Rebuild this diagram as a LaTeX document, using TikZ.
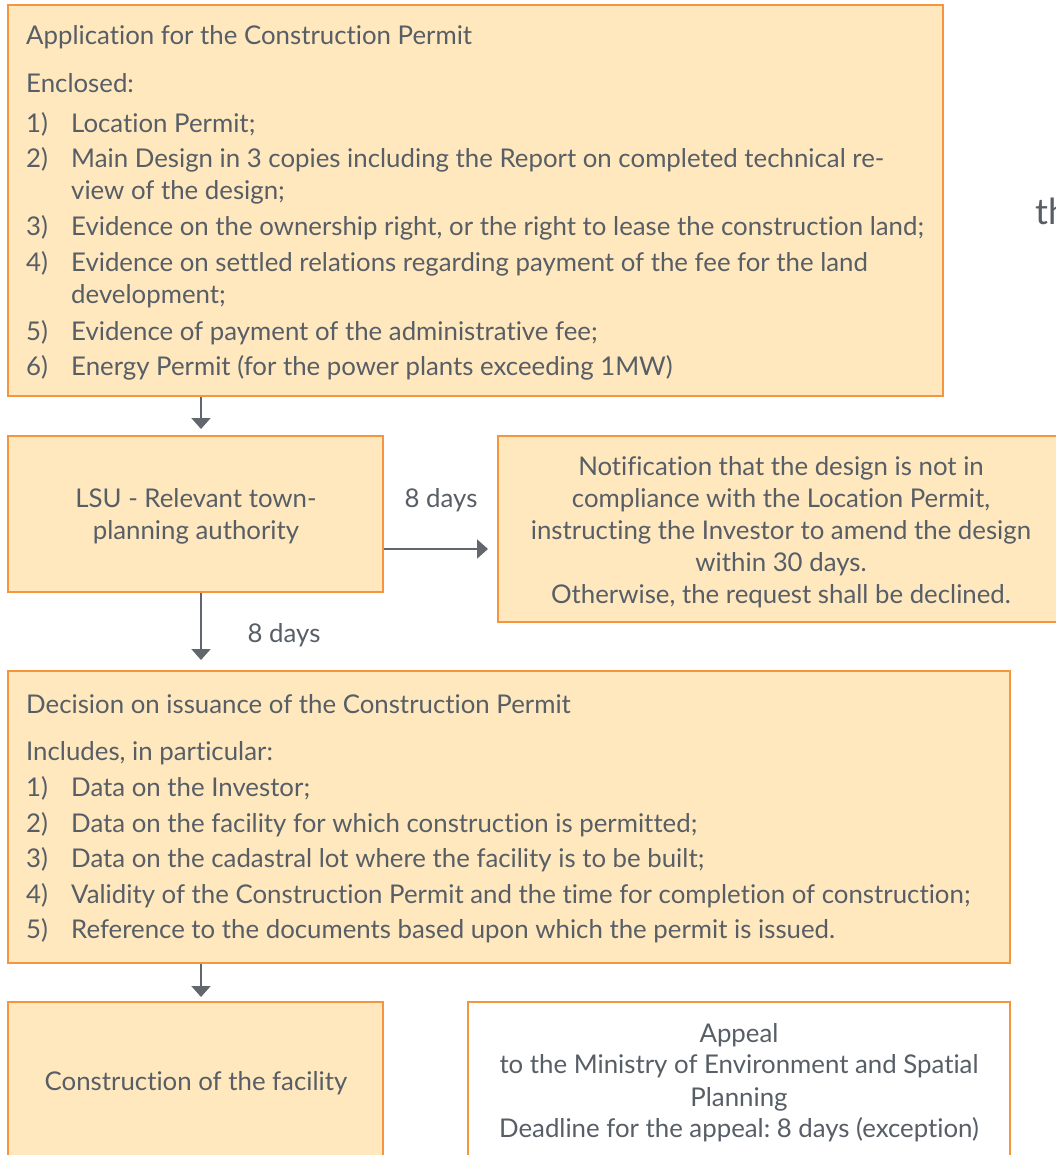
\documentclass[tikz,border=0pt]{standalone}
\usepackage{fontspec}
\setmainfont{Lato}[Ligatures=NoCommon]
\frenchspacing
\usetikzlibrary{arrows.meta}
\definecolor{boxline}{HTML}{F5963F}
\definecolor{boxfill}{HTML}{FFE8BE}
\definecolor{ink}{HTML}{575E66}
\definecolor{arrowgray}{HTML}{62676D}
\begin{document}
\begin{tikzpicture}[x=1pt,y=-1pt,
  box/.style={draw=boxline, line width=2.6pt, fill=boxfill, rectangle,
    inner sep=0pt, outer sep=0pt, anchor=north west},
  plainbox/.style={box, fill=white},
  txt/.style={anchor=base west, inner sep=0pt, text=ink,
    font=\fontsize{25.8}{31}\selectfont},
  ctxt/.style={txt, anchor=base},
  arr/.style={draw=arrowgray, line width=2pt, shorten <=1.3pt,
    -{Triangle[length=11pt,width=19pt]}},
]
\useasboundingbox (0,0) rectangle (1056,1155);
\clip (0,0) rectangle (1056,1155);

% boxes
\node[box, minimum width=935pt, minimum height=391pt] (app) at (8,5) {};
\node[box, minimum width=375pt, minimum height=156pt] (lsu) at (8,436) {};
\node[box, minimum width=580pt, minimum height=186pt] (note) at (498,436) {};
\node[box, minimum width=1002pt, minimum height=292pt] (dec) at (8,671) {};
\node[box, minimum width=375pt, minimum height=180pt] (cons) at (8,1002) {};
\node[plainbox, minimum width=542pt, minimum height=180pt] (appeal) at (468,1002) {};

% application text
\node[txt] (apph) at (26,45) {Application for the Construction Permit};
\node[txt] (appe) at (26,93) {Enclosed:};
\node[txt] (an1) at (26,133) {1)};
\node[txt] (ai1) at (71,133) {Location Permit;};
\node[txt] (an2) at (26,168) {2)};
\node[txt] (ai2) at (71,168) {Main Design in 3 copies including the Report on completed technical re-};
\node[txt] (ai2b) at (71,200) {view of the design;};
\node[txt] (an3) at (26,236) {3)};
\node[txt] (ai3) at (71,236) {Evidence on the ownership right, or the right to lease the construction land;};
\node[txt] (an4) at (26,272) {4)};
\node[txt] (ai4) at (71,272) {Evidence on settled relations regarding payment of the fee for the land};
\node[txt] (ai4b) at (71,303) {development;};
\node[txt] (an5) at (26,340) {5)};
\node[txt] (ai5) at (71,340) {Evidence of payment of the administrative fee;};
\node[txt] (an6) at (26,375) {6)};
\node[txt] (ai6) at (71,375) {Energy Permit (for the power plants exceeding 1MW)};

% cut-off heading on the right
\node[txt, anchor=base west, font=\fontsize{36}{42}\selectfont] (frag) at (1035,225) {th};

% town-planning authority
\node[ctxt] (lsu1) at (196,507) {LSU - Relevant town-};
\node[ctxt] (lsu2) at (196,539) {planning authority};

% notification
\node[ctxt] (n1) at (781,475) {Notification that the design is not in};
\node[ctxt] (n2) at (781,507) {compliance with the Location Permit,};
\node[ctxt] (n3) at (781,539) {instructing the Investor to amend the design};
\node[ctxt] (n4) at (781,571) {within 30 days.};
\node[ctxt] (n5) at (781,603) {Otherwise, the request shall be declined.};

% decision text
\node[txt] (dech) at (26,713) {Decision on issuance of the Construction Permit};
\node[txt] (deci) at (26,760) {Includes, in particular:};
\node[txt] (dn1) at (26,796) {1)};
\node[txt] (di1) at (71,796) {Data on the Investor;};
\node[txt] (dn2) at (26,832) {2)};
\node[txt] (di2) at (71,832) {Data on the facility for which construction is permitted;};
\node[txt] (dn3) at (26,867) {3)};
\node[txt] (di3) at (71,867) {Data on the cadastral lot where the facility is to be built;};
\node[txt] (dn4) at (26,903) {4)};
\node[txt] (di4) at (71,903) {Validity of the Construction Permit and the time for completion of construction;};
\node[txt] (dn5) at (26,938) {5)};
\node[txt] (di5) at (71,938) {Reference to the documents based upon which the permit is issued.};

% bottom row
\node[ctxt] (cons1) at (196,1090) {Construction of the facility};
\node[ctxt] (ap1) at (739,1042) {Appeal};
\node[ctxt] (ap2) at (739,1073) {to the Ministry of Environment and Spatial};
\node[ctxt] (ap3) at (739,1106) {Planning};
\node[ctxt] (ap4) at (739,1137) {Deadline for the appeal: 8 days (exception)};

% connectors
\coordinate (ax) at (201,0);
\coordinate (hy) at (0,549);
\draw[arr, shorten >=7pt] (app.south -| ax) -- (lsu.north -| ax);
\draw[arr, shorten >=10pt] (lsu.east |- hy) -- (note.west |- hy);
\draw[arr, shorten >=11pt] (lsu.south -| ax) -- (dec.north -| ax);
\draw[arr, shorten >=5pt] (dec.south -| ax) -- (cons.north -| ax);

% delay labels
\node[ctxt] (d1) at (441,507) {8 days};
\node[ctxt] (d2) at (284,642) {8 days};
\end{tikzpicture}
\end{document}
